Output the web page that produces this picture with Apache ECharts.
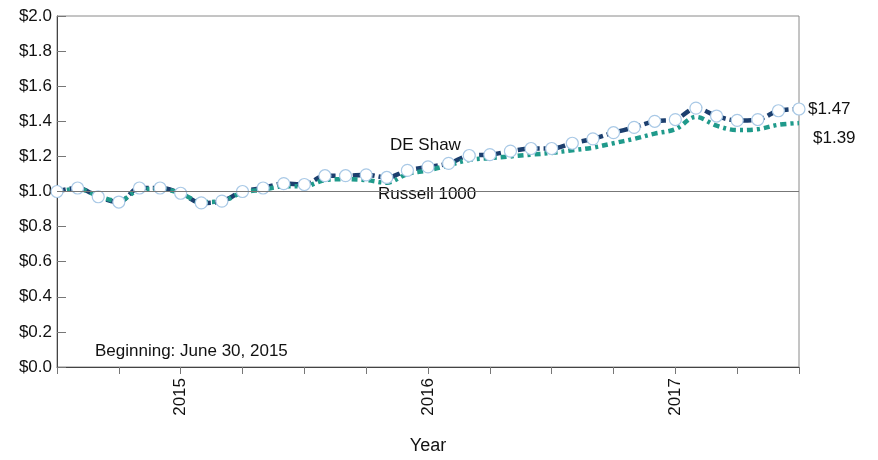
<!DOCTYPE html>
<html>
<head>
<meta charset="utf-8">
<script src="https://cdn.jsdelivr.net/npm/echarts@6/dist/echarts.min.js"></script>
<style>
html,body{margin:0;padding:0;background:#fff;}
#c{width:878px;height:460px;}
</style>
</head>
<body>
<div id="c"></div>
<script>
// Monthly periods (37 points)
const months = [
  '2014-07','2014-08','2014-09','2014-10','2014-11','2014-12',
  '2015-01','2015-02','2015-03','2015-04','2015-05','2015-06',
  '2015-07','2015-08','2015-09','2015-10','2015-11','2015-12',
  '2016-01','2016-02','2016-03','2016-04','2016-05','2016-06',
  '2016-07','2016-08','2016-09','2016-10','2016-11','2016-12',
  '2017-01','2017-02','2017-03','2017-04','2017-05','2017-06',
  '2017-07'
];
const deShaw = [
  1.00,1.02,0.97,0.94,1.02,1.02,0.99,0.935,0.945,1.00,
  1.02,1.045,1.04,1.09,1.09,1.095,1.08,1.12,1.14,1.16,
  1.205,1.21,1.23,1.245,1.245,1.275,1.30,1.335,1.365,1.40,
  1.41,1.475,1.43,1.405,1.41,1.46,1.47
];
const russell1000 = [
  1.00,1.015,0.975,0.945,1.01,1.015,0.99,0.94,0.945,0.995,
  1.01,1.03,1.03,1.065,1.07,1.065,1.05,1.10,1.12,1.15,
  1.18,1.19,1.20,1.21,1.22,1.235,1.25,1.275,1.30,1.33,
  1.355,1.425,1.375,1.35,1.355,1.38,1.39
];
const yearLabelIdx = [6,18,30];

const FONT = 'Liberation Sans, Arial, sans-serif';
const TXT = '#111';
const chart = echarts.init(document.getElementById('c'), null, {renderer:'canvas'});
const option = {
  animation:false,
  backgroundColor:'#fff',
  grid:{left:57,right:79,top:16,bottom:91,show:true,borderColor:'#8a8a8a',borderWidth:1},
  xAxis:{
    type:'category', data:months, boundaryGap:false,
    name:'Year', nameLocation:'middle', nameGap:70,
    nameTextStyle:{fontFamily:FONT,fontSize:18,color:TXT},
    axisLine:{lineStyle:{color:'#444',width:1}},
    axisTick:{show:true,length:7,lineStyle:{color:'#777'},interval:(i)=>i%3===0},
    axisLabel:{interval:(i)=>yearLabelIdx.includes(i),rotate:90,margin:11,
      fontFamily:FONT,fontSize:17,color:TXT,formatter:(v)=>v.slice(0,4)},
    splitLine:{show:false}
  },
  yAxis:{
    type:'value', min:0, max:2, interval:0.2,
    axisLine:{show:true,lineStyle:{color:'#444',width:1}},
    axisTick:{show:true,inside:true,length:9,lineStyle:{color:'#777'}},
    axisLabel:{fontFamily:FONT,fontSize:17,color:TXT,margin:5,
      formatter:(v)=>'$'+v.toFixed(1)},
    splitLine:{show:false}
  },
  series:[
    {
      name:'DE Shaw', type:'line', data:deShaw, smooth:0.35, showSymbol:false, z:2,
      lineStyle:{color:'#1c3f6e',width:4.5,type:[9,4]},
      markLine:{silent:true,symbol:'none',label:{show:false},
        lineStyle:{color:'#777',width:1,type:'solid'},data:[{yAxis:1.0}]}
    },
    {
      name:'Russell 1000', type:'line', data:russell1000, smooth:0.35, showSymbol:false, z:3,
      lineStyle:{color:'#1f9a8b',width:4.5,type:[6,4,3,4]}
    },
    {
      name:'DE Shaw markers', type:'line', data:deShaw, smooth:0.35, z:4,
      lineStyle:{width:0,opacity:0},
      symbol:'circle', symbolSize:12, showSymbol:true,
      itemStyle:{color:'#ffffff',borderColor:'#a9c9e6',borderWidth:1.2}
    }
  ],
  graphic:[
    {type:'text',left:390,top:137,style:{text:'DE Shaw',font:'17px '+FONT,fill:TXT}},
    {type:'text',left:378,top:186,style:{text:'Russell 1000',font:'17px '+FONT,fill:TXT}},
    {type:'text',left:808,top:101,style:{text:'$'+deShaw[deShaw.length-1].toFixed(2),font:'17px '+FONT,fill:TXT}},
    {type:'text',left:813,top:130,style:{text:'$'+russell1000[russell1000.length-1].toFixed(2),font:'17px '+FONT,fill:TXT}},
    {type:'text',left:95,top:343,style:{text:'Beginning: June 30, 2015',font:'17px '+FONT,fill:TXT}}
  ]
};
chart.setOption(option);
</script>
</body>
</html>
